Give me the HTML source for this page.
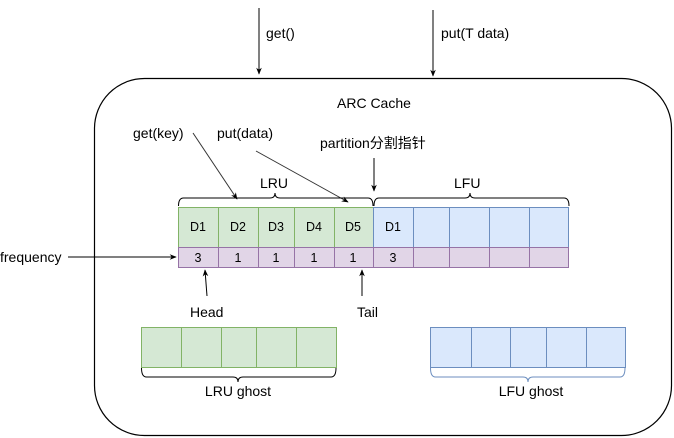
<!DOCTYPE html>
<html><head><meta charset="utf-8"><style>
html,body{margin:0;padding:0;background:#fff;}
svg{display:block;font-family:"Liberation Sans","Noto Sans CJK SC",sans-serif;}
</style></head><body>
<svg width="674" height="438" viewBox="0 0 674 438" xmlns="http://www.w3.org/2000/svg">
<defs>
<marker id="a" viewBox="0 0 10 10" refX="9" refY="5" markerWidth="7" markerHeight="7" orient="auto"><path d="M0,1 L10,5 L0,9 L3,5 Z" fill="#000"/></marker>
</defs>
<rect x="94.5" y="78.5" width="577" height="357" rx="50" fill="none" stroke="#000" stroke-width="1.2"/>
<line x1="259" y1="8" x2="259" y2="74" stroke="#000" marker-end="url(#a)"/>
<line x1="433" y1="10" x2="433" y2="76" stroke="#000" marker-end="url(#a)"/>
<g font-size="14">
<text x="266" y="38">get()</text>
<text x="441" y="38">put(T data)</text>
<text x="337" y="108">ARC Cache</text>
<text x="133" y="138">get(key)</text>
<text x="217" y="138">put(data)</text>
<text x="320" y="148">partition分割指针</text>
<text x="260" y="188">LRU</text>
<text x="454" y="188">LFU</text>
<text x="0" y="262">frequency</text>
<text x="190" y="317">Head</text>
<text x="357" y="317">Tail</text>
</g>
<line x1="193" y1="133" x2="237" y2="199" stroke="#333" marker-end="url(#a)"/>
<line x1="256" y1="151" x2="348" y2="202" stroke="#333" marker-end="url(#a)"/>
<line x1="374" y1="158" x2="374" y2="191" stroke="#000" marker-end="url(#a)"/>
<path d="M178.5,206 q0,-8 5,-8 H270 q5,0 5,-5 q0,5 5,5 H368 q5,0 5,8" fill="none" stroke="#000"/>
<path d="M374,206 q0,-8 5,-8 H465 q5,0 5,-5 q0,5 5,5 H564 q5,0 5,8" fill="none" stroke="#000"/>
<rect x="178.5" y="207.5" width="195" height="40" fill="#d5e8d4" stroke="#82b366"/>
<rect x="373.5" y="207.5" width="195" height="40" fill="#dae8fc" stroke="#6c8ebf"/>
<rect x="178.5" y="247.5" width="390" height="20" fill="#e1d5e7" stroke="#9673a6"/>
<g stroke="#82b366"><line x1="218.5" y1="207" x2="218.5" y2="247"/><line x1="258.5" y1="207" x2="258.5" y2="247"/><line x1="294.5" y1="207" x2="294.5" y2="247"/><line x1="334.5" y1="207" x2="334.5" y2="247"/></g>
<g stroke="#6c8ebf"><line x1="413.5" y1="207" x2="413.5" y2="247"/><line x1="449.5" y1="207" x2="449.5" y2="247"/><line x1="489.5" y1="207" x2="489.5" y2="247"/><line x1="529.5" y1="207" x2="529.5" y2="247"/></g>
<g stroke="#9673a6"><line x1="218.5" y1="247" x2="218.5" y2="267"/><line x1="258.5" y1="247" x2="258.5" y2="267"/><line x1="294.5" y1="247" x2="294.5" y2="267"/><line x1="334.5" y1="247" x2="334.5" y2="267"/><line x1="373.5" y1="247" x2="373.5" y2="267"/><line x1="413.5" y1="247" x2="413.5" y2="267"/><line x1="449.5" y1="247" x2="449.5" y2="267"/><line x1="489.5" y1="247" x2="489.5" y2="267"/><line x1="529.5" y1="247" x2="529.5" y2="267"/></g>
<g font-size="12.5" text-anchor="middle">
<text x="198" y="231">D1</text><text x="238" y="231">D2</text><text x="276" y="231">D3</text><text x="314" y="231">D4</text><text x="353" y="231">D5</text><text x="393" y="231">D1</text>
<text x="198" y="262">3</text><text x="238" y="262">1</text><text x="276" y="262">1</text><text x="314" y="262">1</text><text x="353" y="262">1</text><text x="393" y="262">3</text>
</g>
<line x1="68" y1="257" x2="176" y2="257" stroke="#000" marker-end="url(#a)"/>
<line x1="207" y1="296" x2="205" y2="270" stroke="#000" marker-end="url(#a)"/>
<line x1="362" y1="296" x2="362" y2="270" stroke="#000" marker-end="url(#a)"/>
<rect x="141.5" y="327.5" width="195" height="40" fill="#d5e8d4" stroke="#82b366"/>
<g stroke="#82b366"><line x1="181.5" y1="327" x2="181.5" y2="367"/><line x1="221.5" y1="327" x2="221.5" y2="367"/><line x1="256.5" y1="327" x2="256.5" y2="367"/><line x1="296.5" y1="327" x2="296.5" y2="367"/></g>
<rect x="430.5" y="327.5" width="195" height="40" fill="#dae8fc" stroke="#6c8ebf"/>
<g stroke="#6c8ebf"><line x1="471.5" y1="327" x2="471.5" y2="367"/><line x1="510.5" y1="327" x2="510.5" y2="367"/><line x1="546.5" y1="327" x2="546.5" y2="367"/><line x1="586.5" y1="327" x2="586.5" y2="367"/></g>
<path d="M141.5,368 q0,9 5,9 H233 q5,0 5,5 q0,-5 5,-5 H331 q5,0 5,-9" fill="none" stroke="#000"/>
<path d="M430.5,368 q0,9 5,9 H523 q5,0 5,5 q0,-5 5,-5 H620 q5,0 5,-9" fill="none" stroke="#6c8ebf"/>
<text x="238" y="396" font-size="14" text-anchor="middle">LRU ghost</text>
<text x="531" y="396" font-size="14" text-anchor="middle">LFU ghost</text>
</svg>
</body></html>
